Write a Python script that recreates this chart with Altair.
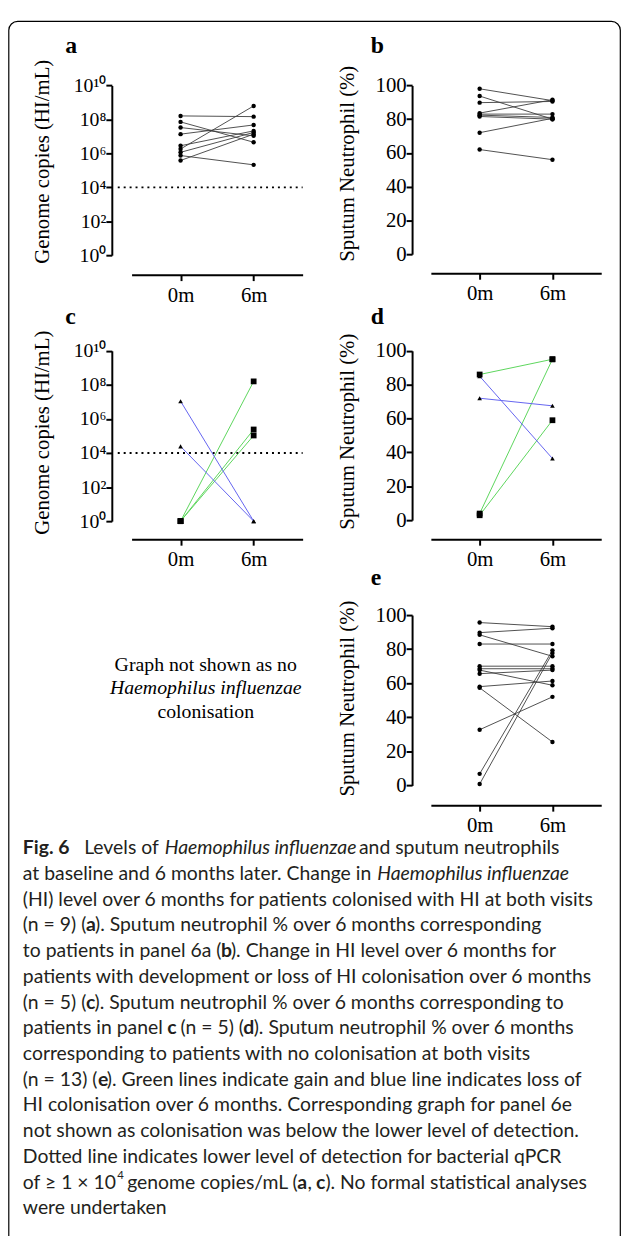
import altair as alt
import pandas as pd

# ---------------- data ----------------
time_labels = ["0m", "6m"]

a_hi_0m = [1.6e8, 7.1e7, 3.3e7, 1.35e7, 2.8e6, 1.8e6, 1.15e6, 7.4e5, 3.8e5]
a_hi_6m = [1.45e8, 4.5e6, 1.07e7, 4.7e7, 2.1e7, 6.2e8, 1.7e7, 2.1e5, 1.35e7]

b_neut_0m = [98, 93.7, 89.8, 83.6, 83, 82.4, 81.6, 72, 62]
b_neut_6m = [91, 80, 90.5, 91.5, 83, 81, 80, 80.5, 56]

c_group = ["gain", "gain", "gain", "loss", "loss"]
c_hi_0m = [1, 1, 1, 1.1e7, 2.45e4]
c_hi_6m = [1.6e8, 2.4e5, 1.07e5, 1, 1]

d_group = ["gain", "gain", "gain", "loss", "loss"]
d_neut_0m = [86, 3.9, 2.9, 85, 72]
d_neut_6m = [95, 95, 59, 36.4, 67.5]

e_neut_0m = [95.6, 89.7, 88.4, 83, 70, 68.5, 67.7, 65.6, 58, 57.3, 32.7, 6.8, 0.8]
e_neut_6m = [93.2, 92.3, 75.8, 83, 70, 68.5, 58.8, 67.7, 61.3, 25.5, 52, 79.3, 77.8]

detection_limit = [1e4]
log_ticks = [1, 1e2, 1e4, 1e6, 1e8, 1e10]
pct_ticks = [0, 20, 40, 60, 80, 100]
group_names = ["gain", "loss"]

title_hi = "Genome copies (HI/mL)"
title_neut = "Sputum Neutrophil (%)"
panel_letters = ["a", "b", "c", "d", "e"]
no_graph_text = ["Graph not shown as no", "Haemophilus influenzae", "colonisation"]
no_graph_style = ["normal", "italic", "normal"]

caption_lines = [
    [("Fig. 6", "bold"), ("Levels of", "normal"), ("Haemophilus influenzae", "italic"), ("and sputum neutrophils", "normal")],
    [("at baseline and 6 months later. Change in", "normal"), ("Haemophilus influenzae", "italic")],
    [("(HI) level over 6 months for patients colonised with HI at both visits", "normal")],
    [("(n = 9) (", "normal"), ("a", "bold"), ("). Sputum neutrophil % over 6 months corresponding", "normal")],
    [("to patients in panel 6a (", "normal"), ("b", "bold"), ("). Change in HI level over 6 months for", "normal")],
    [("patients with development or loss of HI colonisation over 6 months", "normal")],
    [("(n = 5) (", "normal"), ("c", "bold"), ("). Sputum neutrophil % over 6 months corresponding to", "normal")],
    [("patients in panel", "normal"), ("c", "bold"), ("(n = 5) (", "normal"), ("d", "bold"), ("). Sputum neutrophil % over 6 months", "normal")],
    [("corresponding to patients with no colonisation at both visits", "normal")],
    [("(n = 13) (", "normal"), ("e", "bold"), ("). Green lines indicate gain and blue line indicates loss of", "normal")],
    [("HI colonisation over 6 months. Corresponding graph for panel 6e", "normal")],
    [("not shown as colonisation was below the lower level of detection.", "normal")],
    [("Dotted line indicates lower level of detection for bacterial qPCR", "normal")],
    [("of \u2265 1 \u00d7 10", "normal"), ("4", "sup"), ("genome copies/mL (", "normal"), ("a", "bold"), (",", "normal"),
     ("c", "bold"), ("). No formal statistical analyses", "normal")],
    [("were undertaken", "normal")],
]

# ---------------- layout (page pixels) ----------------
W, H = 620, 1228
M = 8  # page margin


def px(v):
    return v - M


geo = {
    "a": dict(axis_x=113, top=79.3, bottom=251, axis_y=270.7, x0=133, x1=306, tx=43, ty=156),
    "b": dict(axis_x=416.7, top=79.3, bottom=250, axis_y=269.3, x0=435.7, x1=608, tx=351.7, ty=158),
    "c": dict(axis_x=113, top=347.7, bottom=520, axis_y=538.3, x0=133, x1=306, tx=43, ty=430),
    "d": dict(axis_x=416.7, top=347.7, bottom=519, axis_y=538.3, x0=435.7, x1=608, tx=351.7, ty=429),
    "e": dict(axis_x=416.7, top=615, bottom=787.3, axis_y=807.3, x0=435.7, x1=608, tx=351.7, ty=699),
}
letter_pos = {"a": (66, 46.7), "b": (375, 46), "c": (66, 320.7), "d": (375, 320.5), "e": (375, 585)}
no_graph_center = (208, [666, 689, 713])
caption_x = [
    [23, 85, 166.5, 363],
    [23, 381.5],
    [23],
    [23, 87, 96],
    [23, 223.5, 233.5],
    [23],
    [23, 87, 95.5],
    [23, 169, 182.5, 246, 256.5],
    [23],
    [23, 99, 108],
    [23],
    [23],
    [23],
    [23, 118.5, 128.5, 300.5, 311, 319.5, 329],
    [23],
]
caption_y0, caption_dy = 851, 26
CAP_SIZE = 19.6

GREEN = "#5cd65c"
BLUE = "#6464f0"
SERIF = "Liberation Serif"
SANS = "Lato"

log_label_expr = (
    "datum.value < 10 ? '10\u2070' : datum.value < 1000 ? '10\u00b2' : "
    "datum.value < 100000 ? '10\u2074' : datum.value < 10000000 ? '10\u2076' : "
    "datum.value < 1000000000 ? '10\u2078' : '10\u00b9\u2070'"
)


def long_df(v0, v6, groups=None):
    rows = []
    for i, (a, b) in enumerate(zip(v0, v6)):
        g = groups[i] if groups else "all"
        rows.append({"id": i, "time": time_labels[0], "value": a, "group": g})
        rows.append({"id": i, "time": time_labels[1], "value": b, "group": g})
    return pd.DataFrame(rows)


def make_panel(key, v0, v6, kind, title, groups=None, with_limit=False):
    g = geo[key]
    df = long_df(v0, v6, groups)
    xenc = alt.X(
        "time:N", sort=time_labels,
        scale=alt.Scale(type="point", range=[px(g["x0"]), px(g["x1"])], padding=0.67),
        axis=alt.Axis(orient="bottom", offset=px(g["axis_y"]) - H, title=None, labelAngle=0,
                      labelFontSize=21, labelPadding=4, labelFont=SERIF, labelColor="black",
                      domainColor="black", domainWidth=2, tickColor="black", tickWidth=2, tickSize=6,
                      grid=False),
    )
    common_axis = dict(
        orient="left", offset=-px(g["axis_x"]), title=title,
        titleX=g["tx"] - g["axis_x"], titleY=px(g["ty"]), titleAngle=270, titleBaseline="middle",
        titleAlign="center", titleFont=SERIF, titleFontSize=21, titleFontWeight="normal", titleColor="black",
        labelFont=SERIF, labelColor="black", labelPadding=0,
        domainColor="black", domainWidth=2, tickColor="black", tickWidth=2, tickSize=6, grid=False,
    )
    if kind == "log":
        yenc = alt.Y("value:Q", scale=alt.Scale(type="log", domain=[1, 1e10],
                                                range=[px(g["bottom"]), px(g["top"])], nice=False),
                     axis=alt.Axis(values=log_ticks, labelExpr=log_label_expr, labelFontSize=20, **common_axis))
    else:
        yenc = alt.Y("value:Q", scale=alt.Scale(domain=[0, 100], range=[px(g["bottom"]), px(g["top"])],
                                                nice=False, zero=False),
                     axis=alt.Axis(values=pct_ticks, format="d", labelFontSize=21, **common_axis))

    base = alt.Chart(df)
    if groups:
        lines = base.mark_line(strokeWidth=1).encode(
            x=xenc, y=yenc, detail="id:N",
            color=alt.Color("group:N", scale=alt.Scale(domain=group_names, range=[GREEN, BLUE]), legend=None),
        )
        points = base.mark_point(filled=True, color="black", opacity=1, strokeWidth=0).encode(
            x=xenc, y=yenc,
            shape=alt.Shape("group:N", scale=alt.Scale(domain=group_names, range=["square", "triangle-up"]),
                            legend=None),
            size=alt.Size("group:N", scale=alt.Scale(domain=group_names, range=[34, 22]), legend=None),
        )
    else:
        lines = base.mark_line(strokeWidth=0.9, color="#3c3c3c").encode(x=xenc, y=yenc, detail="id:N")
        points = base.mark_point(filled=True, shape="circle", size=20, color="black", opacity=1,
                                 strokeWidth=0).encode(x=xenc, y=yenc)
    layers = []
    if with_limit:
        lim = alt.Chart(pd.DataFrame({"value": detection_limit})).mark_rule(
            color="black", strokeWidth=1.8, strokeDash=[2, 4]
        ).encode(x=alt.value(px(119)), x2=alt.value(px(306)), y=yenc)
        layers.append(lim)
    layers += [lines, points]
    return alt.layer(*layers)


panel_a = make_panel("a", a_hi_0m, a_hi_6m, "log", title_hi, with_limit=True)
panel_b = make_panel("b", b_neut_0m, b_neut_6m, "pct", title_neut)
panel_c = make_panel("c", c_hi_0m, c_hi_6m, "log", title_hi, groups=c_group, with_limit=True)
panel_d = make_panel("d", d_neut_0m, d_neut_6m, "pct", title_neut, groups=d_group)
panel_e = make_panel("e", e_neut_0m, e_neut_6m, "pct", title_neut)

# panel letters
letters_df = pd.DataFrame({
    "text": panel_letters,
    "x": [px(letter_pos[k][0]) for k in panel_letters],
    "y": [px(letter_pos[k][1]) for k in panel_letters],
})
letters = alt.Chart(letters_df).mark_text(
    align="left", baseline="alphabetic", font=SERIF, fontSize=24, fontWeight="bold", color="black"
).encode(x=alt.X("x:Q", scale=None, axis=None), y=alt.Y("y:Q", scale=None, axis=None), text="text:N")

# "graph not shown" note
ng_df = pd.DataFrame({
    "text": no_graph_text, "style": no_graph_style,
    "x": [px(no_graph_center[0])] * 3, "y": [px(v) for v in no_graph_center[1]],
})
ng_layers = []
for st in ["normal", "italic"]:
    ng_layers.append(
        alt.Chart(ng_df).transform_filter(alt.datum.style == st).mark_text(
            align="center", baseline="middle", font=SERIF, fontSize=20, fontStyle=st, color="black"
        ).encode(x=alt.X("x:Q", scale=None, axis=None), y=alt.Y("y:Q", scale=None, axis=None), text="text:N")
    )

# caption
cap_rows = []
for i, (segs, xs) in enumerate(zip(caption_lines, caption_x)):
    for (txt, st), xx in zip(segs, xs):
        cap_rows.append({"text": txt, "style": st, "x": px(xx), "y": px(caption_y0 + caption_dy * i)})
cap_df = pd.DataFrame(cap_rows)
cap_styles = {
    "normal": dict(fontStyle="normal", fontWeight="normal", fontSize=CAP_SIZE, dy=0),
    "italic": dict(fontStyle="italic", fontWeight="normal", fontSize=CAP_SIZE, dy=0),
    "bold": dict(fontStyle="normal", fontWeight="bold", fontSize=CAP_SIZE, dy=0),
    "sup": dict(fontStyle="normal", fontWeight="normal", fontSize=11.5, dy=-7),
}
cap_layers = []
for st, opts in cap_styles.items():
    cap_layers.append(
        alt.Chart(cap_df).transform_filter(alt.datum.style == st).mark_text(
            align="left", baseline="middle", font=SANS, color="#231f20", **opts
        ).encode(x=alt.X("x:Q", scale=None, axis=None), y=alt.Y("y:Q", scale=None, axis=None), text="text:N")
    )

# frame
frame = alt.Chart(pd.DataFrame({"k": [0]})).mark_rect(
    fillOpacity=0, stroke="black", strokeWidth=1.2, cornerRadius=9
).encode(x=alt.value(0.8), x2=alt.value(619.3), y=alt.value(6.5), y2=alt.value(1260))

chart = alt.layer(
    frame, panel_a, panel_b, panel_c, panel_d, panel_e, letters, *ng_layers, *cap_layers
).resolve_scale(
    x="independent", y="independent", color="independent", shape="independent", size="independent"
).properties(
    width=W, height=H, autosize=alt.AutoSizeParams(type="none"), padding=0, background="white"
).configure_view(strokeWidth=0)

chart.save("out.html", embed_options={"renderer": "svg", "actions": False})
